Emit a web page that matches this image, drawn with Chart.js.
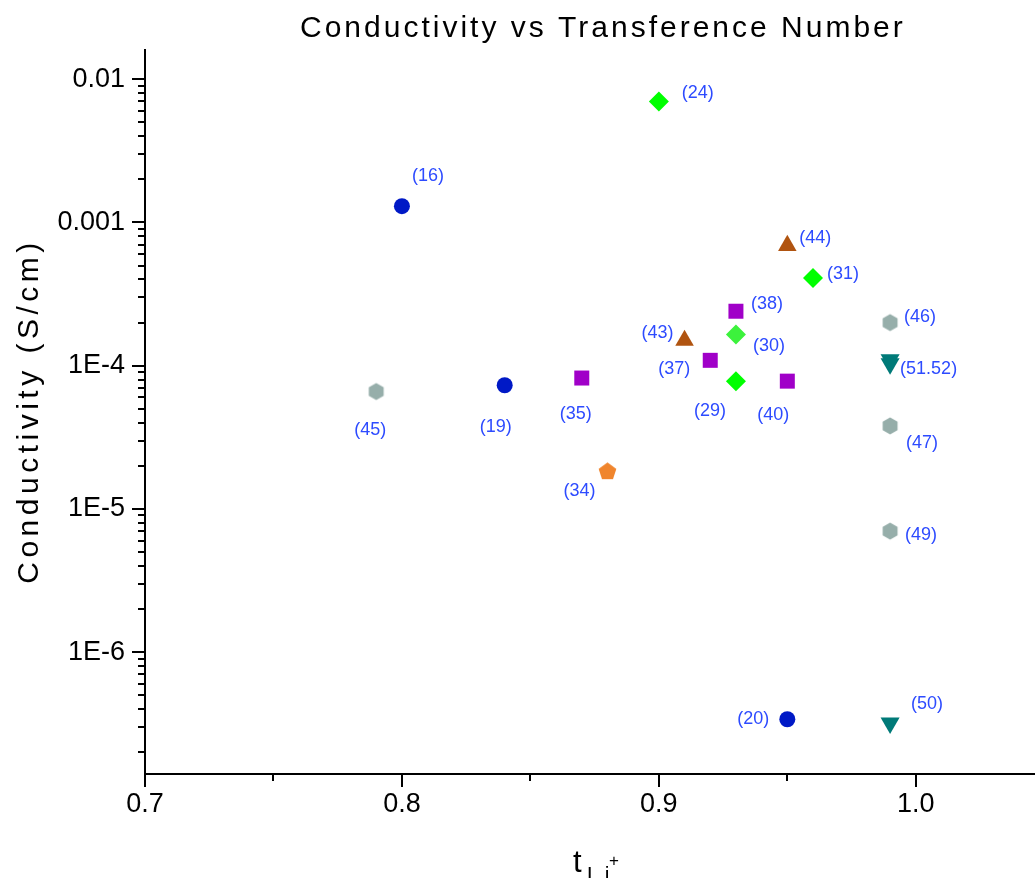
<!DOCTYPE html>
<html>
<head>
<meta charset="utf-8">
<title>Conductivity vs Transference Number</title>
<script src="https://cdn.jsdelivr.net/npm/chart.js@4.4.1/dist/chart.umd.min.js"></script>
<style>
  html, body { margin: 0; padding: 0; background: #fff; overflow: hidden; }
</style>
</head>
<body>
<canvas id="chart" width="1035" height="878"></canvas>
<script>
// ---- data (t_Li+ vs conductivity, S/cm), grouped by marker ----
const circleRefs = ['(16)', '(19)', '(20)'];
const circleT = [0.80, 0.84, 0.95];
const circleSigma = [1.3e-3, 7.3e-5, 3.4e-7];

const diamondRefs = ['(24)', '(31)', '(29)'];
const diamondT = [0.90, 0.96, 0.93];
const diamondSigma = [7.0e-3, 4.1e-4, 7.8e-5];

const lightDiamondRefs = ['(30)'];
const lightDiamondT = [0.93];
const lightDiamondSigma = [1.65e-4];

const squareRefs = ['(35)', '(37)', '(38)', '(40)'];
const squareT = [0.87, 0.92, 0.93, 0.95];
const squareSigma = [8.2e-5, 1.09e-4, 2.4e-4, 7.8e-5];

const triangleRefs = ['(43)', '(44)'];
const triangleT = [0.91, 0.95];
const triangleSigma = [1.5e-4, 6.9e-4];

const pentagonRefs = ['(34)'];
const pentagonT = [0.88];
const pentagonSigma = [1.82e-5];

const hexagonRefs = ['(45)', '(46)', '(47)', '(49)'];
const hexagonT = [0.79, 0.99, 0.99, 0.99];
const hexagonSigma = [6.6e-5, 2.0e-4, 3.8e-5, 7.0e-6];

const downTriangleRefs = ['', '(51.52)', '(50)'];
const downTriangleT = [0.99, 0.99, 0.99];
const downTriangleSigma = [1.1e-4, 1.03e-4, 3.2e-7];

// axis ticks
const xMajorTicks = [0.7, 0.8, 0.9, 1.0];
const xTickLabels = ['0.7', '0.8', '0.9', '1.0'];
const xMinorTicks = [0.75, 0.85, 0.95];
const yMajorTicks = [1e-2, 1e-3, 1e-4, 1e-5, 1e-6];
const yTickLabels = ['0.01', '0.001', '1E-4', '1E-5', '1E-6'];

// where each reference label sits relative to its marker
const labelPlacement = {
  '(16)': [10, -30, 'left'],   '(19)': [-9, 42, 'center'],  '(20)': [-18, 0, 'right'],
  '(24)': [23, -8, 'left'],    '(31)': [14, -4, 'left'],    '(29)': [-26, 30, 'center'],
  '(30)': [17, 11, 'left'],    '(35)': [-6, 36, 'center'],  '(37)': [-20, 9, 'right'],
  '(38)': [15, -7, 'left'],    '(40)': [-14, 34, 'center'], '(43)': [-11, -7, 'right'],
  '(44)': [12, -8, 'left'],    '(34)': [-12, 19, 'right'],  '(45)': [-6, 38, 'center'],
  '(46)': [14, -6, 'left'],    '(47)': [16, 17, 'left'],    '(49)': [15, 4, 'left'],
  '(51.52)': [10, 5, 'left'],  '(50)': [21, -19, 'left']
};

const FONT = '"Liberation Sans", Arial, sans-serif';

function toPoints(xs, ys) {
  return xs.map((v, i) => ({ x: v, y: ys[i] }));
}

// regular polygon marker drawn on a small canvas (used as pointStyle)
function polygonMarker(sides, radius, color) {
  const size = Math.ceil(radius * 2) + 2;
  const c = document.createElement('canvas');
  c.width = size;
  c.height = size;
  const g = c.getContext('2d');
  g.fillStyle = color;
  g.beginPath();
  for (let i = 0; i < sides; i++) {
    const a = i * 2 * Math.PI / sides;
    const px = size / 2 + radius * Math.sin(a);
    const py = size / 2 - radius * Math.cos(a);
    if (i === 0) g.moveTo(px, py); else g.lineTo(px, py);
  }
  g.closePath();
  g.fill();
  return c;
}

function series(refs, xs, ys, color, style, radius, rotation) {
  return {
    refs: refs,
    data: toPoints(xs, ys),
    backgroundColor: color,
    borderColor: color,
    borderWidth: 0,
    pointStyle: style,
    pointRadius: radius,
    pointHoverRadius: radius,
    pointRotation: rotation || 0
  };
}

const datasets = [
  series(squareRefs, squareT, squareSigma, '#a000c8', 'rect', 10.6),
  series(circleRefs, circleT, circleSigma, '#0019c6', 'circle', 8),
  series(diamondRefs, diamondT, diamondSigma, '#00ff00', 'rectRot', 10),
  series(lightDiamondRefs, lightDiamondT, lightDiamondSigma, '#3cf23c', 'rectRot', 10),
  series(triangleRefs, triangleT, triangleSigma, '#b05410', 'triangle', 10.7),
  series(pentagonRefs, pentagonT, pentagonSigma, '#f0852d', polygonMarker(5, 9.3, '#f0852d'), 9),
  series(hexagonRefs, hexagonT, hexagonSigma, '#96aeaa', polygonMarker(6, 8.6, '#96aeaa'), 9),
  series(downTriangleRefs, downTriangleT, downTriangleSigma, '#007a78', 'triangle', 11, 180)
];

// axis ticks, tick labels, titles and point labels
const decorations = {
  id: 'decorations',
  afterDatasetsDraw(chart) {
    const { ctx } = chart;
    const x = chart.scales.x;
    const y = chart.scales.y;
    const area = chart.chartArea;
    ctx.save();

    // tick marks
    ctx.strokeStyle = '#000';
    ctx.lineWidth = 2;
    ctx.beginPath();
    xMajorTicks.forEach(v => {
      const px = Math.round(x.getPixelForValue(v));
      ctx.moveTo(px, area.bottom); ctx.lineTo(px, area.bottom + 13);
    });
    xMinorTicks.forEach(v => {
      const px = Math.round(x.getPixelForValue(v));
      ctx.moveTo(px, area.bottom); ctx.lineTo(px, area.bottom + 7);
    });
    yMajorTicks.forEach(v => {
      const py = Math.round(y.getPixelForValue(v));
      ctx.moveTo(area.left, py); ctx.lineTo(area.left - 13, py);
    });
    for (let e = -7; e <= -2; e++) {
      for (let k = 2; k <= 9; k++) {
        const v = k * Math.pow(10, e);
        if (v < y.min || v > y.max) continue;
        const py = Math.round(y.getPixelForValue(v));
        ctx.moveTo(area.left, py); ctx.lineTo(area.left - 7, py);
      }
    }
    ctx.stroke();

    // tick labels
    ctx.fillStyle = '#000';
    ctx.font = '27px ' + FONT;
    ctx.textBaseline = 'middle';
    ctx.textAlign = 'center';
    xMajorTicks.forEach((v, i) => {
      ctx.fillText(xTickLabels[i], x.getPixelForValue(v), area.bottom + 31);
    });
    ctx.textAlign = 'right';
    yMajorTicks.forEach((v, i) => {
      ctx.fillText(yTickLabels[i], area.left - 20, y.getPixelForValue(v));
    });

    // chart title
    ctx.font = '30px ' + FONT;
    ctx.letterSpacing = '3px';
    ctx.textAlign = 'left';
    ctx.fillText('Conductivity vs Transference Number', 300, 29);

    // y axis title
    ctx.save();
    ctx.translate(30, 411);
    ctx.rotate(-Math.PI / 2);
    ctx.letterSpacing = '4.5px';
    ctx.textAlign = 'center';
    ctx.fillText('Conductivity (S/cm)', 0, 0);
    ctx.restore();

    // x axis title: t with subscript Li and superscript +
    ctx.letterSpacing = '0px';
    ctx.textBaseline = 'alphabetic';
    ctx.font = '31px ' + FONT;
    ctx.fillText('t', 573, 872);
    ctx.font = '21px ' + FONT;
    ctx.letterSpacing = '6px';
    ctx.fillText('Li', 587, 881);
    ctx.letterSpacing = '0px';
    ctx.font = '17px ' + FONT;
    ctx.fillText('+', 609, 866);

    // reference labels next to markers
    ctx.font = '18px ' + FONT;
    ctx.fillStyle = '#2d4bff';
    ctx.textBaseline = 'middle';
    chart.data.datasets.forEach((ds, di) => {
      const meta = chart.getDatasetMeta(di);
      ds.refs.forEach((ref, i) => {
        if (!ref) return;
        const pl = labelPlacement[ref];
        const pt = meta.data[i];
        ctx.textAlign = pl[2];
        ctx.fillText(ref, pt.x + pl[0], pt.y + pl[1]);
      });
    });

    ctx.restore();
  }
};

new Chart(document.getElementById('chart'), {
  type: 'scatter',
  data: { datasets: datasets },
  options: {
    responsive: false,
    animation: false,
    devicePixelRatio: 1,
    layout: {
      autoPadding: false,
      padding: { left: 145, top: 50, right: 0, bottom: 104 }
    },
    plugins: {
      legend: { display: false },
      title: { display: false },
      tooltip: { enabled: true }
    },
    scales: {
      x: {
        type: 'linear',
        min: 0.7,
        max: 1.0464,
        ticks: { display: false },
        grid: { display: true, drawOnChartArea: false, drawTicks: false },
        border: { display: true, color: '#000', width: 2 }
      },
      y: {
        type: 'logarithmic',
        min: 1.41e-7,
        max: 0.016,
        ticks: { display: false },
        grid: { display: true, drawOnChartArea: false, drawTicks: false },
        border: { display: true, color: '#000', width: 2 }
      }
    }
  },
  plugins: [decorations]
});
</script>
</body>
</html>
